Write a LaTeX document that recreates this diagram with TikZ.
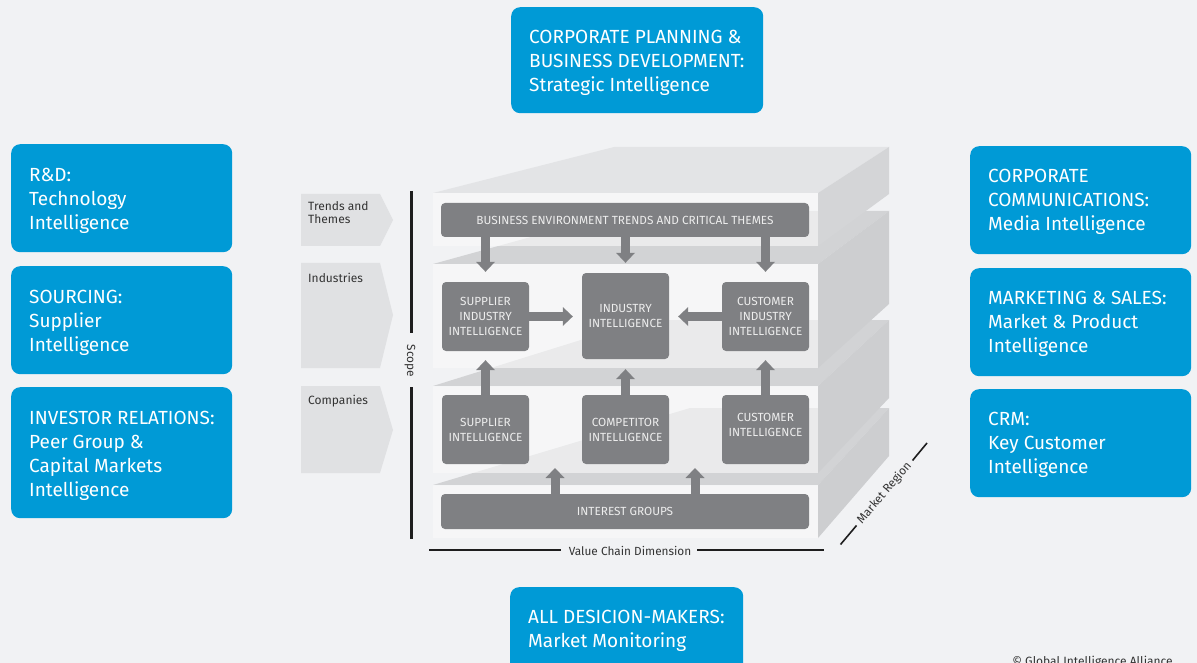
\documentclass[tikz,border=0pt]{standalone}
\usepackage{fontspec}
\setmainfont{Fira Sans}
\usetikzlibrary{arrows.meta,calc}

\definecolor{bg}{HTML}{F1F2F4}
\definecolor{gia}{HTML}{009AD6}
\definecolor{tile}{HTML}{7F8083}
\definecolor{topA}{HTML}{E3E4E6}
\definecolor{topB}{HTML}{D2D3D5}
\definecolor{sideC}{HTML}{CDCED0}
\definecolor{frontC}{HTML}{FAFAFA}
\definecolor{chev}{HTML}{E0E1E3}
\definecolor{ink}{HTML}{333333}
\definecolor{rulec}{HTML}{1E1E1E}

\tikzset{
  bluebox/.style={fill=gia, rounded corners=9pt, inner sep=0pt, anchor=north west},
  bluetxt/.style={text=white, font=\fontsize{19}{24}\selectfont, align=left,
                  inner sep=0pt, anchor=north west},
  tilebox/.style={fill=tile, rounded corners=4pt, inner sep=0pt,
                  text=white!93!black, align=center,
                  font=\fontsize{11.8}{15}\selectfont},
  blk/.style={draw=tile, line width=9pt,
              -{Triangle[length=10pt,width=19pt,line width=0pt]},
              shorten >=10pt},
  chevlbl/.style={text=ink, font=\fontsize{12}{13}\selectfont, align=left,
                  inner sep=0pt, anchor=north west},
  axislbl/.style={text=ink, font=\fontsize{11.8}{13}\selectfont, inner sep=0pt},
  axisrule/.style={draw=rulec, line width=3pt},
  front/.style={fill=frontC, opacity=0.6}
}

\begin{document}
\begin{tikzpicture}[x=1pt,y=-1pt]
\useasboundingbox (0,0) rectangle (1197,663);
\clip (0,0) rectangle (1197,663);
\fill[bg] (0,0) rectangle (1197,663);

% ---- stacked slabs, drawn from the bottom one upwards ----
% slab 4: interest groups
\fill[topB] (433,485) -- (818,485) -- (889,408) -- (690,408) -- cycle;
\fill[sideC] (818,485) -- (889,408) -- (889,456) -- (818,538) -- cycle;
\fill[front] (433,485) rectangle (818,538);
% slab 3: companies
\fill[topB] (433,386) -- (818,386) -- (889,320) -- (645,320) -- cycle;
\fill[sideC] (818,386) -- (889,320) -- (889,398) -- (818,473) -- cycle;
\fill[front] (433,386) rectangle (818,473);
% slab 2: industries
\fill[topB] (433,264) -- (818,264) -- (889,211) -- (625,211) -- cycle;
\fill[sideC] (818,264) -- (889,211) -- (889,304) -- (818,368) -- cycle;
\fill[front] (433,264) rectangle (818,368);
% slab 1: trends and themes
\fill[topA] (433,193) -- (818,193) -- (889,147) -- (614,147) -- cycle;
\fill[sideC!85!white] (818,193) -- (889,147) -- (889,194) -- (818,246) -- cycle;
\fill[front] (433,193) rectangle (818,246);

% ---- scope chevrons ----
\fill[chev] (301,194) -- (380,194) -- (393,220) -- (380,246) -- (301,246) -- cycle;
\fill[chev] (301,263) -- (380,263) -- (393,315) -- (380,368) -- (301,368) -- cycle;
\fill[chev] (301,386) -- (380,386) -- (393,430) -- (380,473) -- (301,473) -- cycle;
\node[chevlbl] (ltrend) at (308,201) {Trends and\\Themes};
\node[chevlbl] (lind) at (308,273) {Industries};
\node[chevlbl] (lcomp) at (308,395) {Companies};

% ---- axes ----
\node[axislbl, rotate=-90] (scope) at (410,361) {Scope};
\coordinate (sc1) at (411,191);
\coordinate (sc2) at (411,333);
\coordinate (sc3) at (411,387);
\coordinate (sc4) at (411,539);
\draw[axisrule] (sc1) -- (sc2);
\draw[axisrule] (sc3) -- (sc4);

\node[axislbl] (vcd) at (630,550.5) {Value Chain Dimension};
\coordinate (vc1) at (429,550);
\coordinate (vc2) at (561,550);
\coordinate (vc3) at (697,550);
\coordinate (vc4) at (824,550);
\draw[axisrule, line width=2.6pt] (vc1) -- (vc2);
\draw[axisrule, line width=2.6pt] (vc3) -- (vc4);

\node[axislbl, rotate=49.5] (mreg) at (884.5,493) {Market Region};
\coordinate (mr1) at (840.5,544.5);
\coordinate (mr2) at (856.5,525.5);
\coordinate (mr3) at (912.5,460.5);
\coordinate (mr4) at (927,443);
\draw[draw=rulec, line width=1.6pt] (mr1) -- (mr2);
\draw[draw=rulec, line width=1.6pt] (mr3) -- (mr4);

% ---- intelligence tiles ----
\node[tilebox, minimum width=368pt, minimum height=34pt] (bet) at (625,220)
  {BUSINESS ENVIRONMENT TRENDS AND CRITICAL THEMES};
\node[tilebox, minimum width=87pt, minimum height=69pt] (sii) at (485.5,316.5)
  {SUPPLIER\\INDUSTRY\\INTELLIGENCE};
\node[tilebox, minimum width=87pt, minimum height=86pt] (ii) at (625.5,316)
  {INDUSTRY\\INTELLIGENCE};
\node[tilebox, minimum width=87pt, minimum height=69pt] (cii) at (765.5,316.5)
  {CUSTOMER\\INDUSTRY\\INTELLIGENCE};
\node[tilebox, minimum width=87pt, minimum height=69pt] (si) at (485.5,429.5)
  {SUPPLIER\\INTELLIGENCE};
\node[tilebox, minimum width=87pt, minimum height=69pt] (ci) at (625.5,429.5)
  {COMPETITOR\\INTELLIGENCE};
\node[tilebox, minimum width=87pt, minimum height=69pt] (cui) at (765.5,429.5)
  {CUSTOMER\\INTELLIGENCE\\[-6pt]};
\node[tilebox, minimum width=368pt, minimum height=35pt] (ig) at (625,511.5)
  {INTEREST GROUPS};

% ---- information flows ----
\draw[blk] (bet.south -| sii.north) -- (sii.north);
\draw[blk] (bet.south -| ii.north) -- (ii.north);
\draw[blk] (bet.south -| cii.north) -- (cii.north);
\draw[blk, shorten >=9pt] (sii.east) -- (ii.west |- sii.east);
\draw[blk, shorten >=9pt] (cii.west) -- (ii.east |- cii.west);
\draw[blk, shorten >=9pt] (si.north) -- (sii.south);
\draw[blk] (ci.north) -- (ii.south);
\draw[blk, shorten >=9pt] (cui.north) -- (cii.south);
\coordinate (gap1) at (555,464);
\coordinate (gap2) at (695,464);
\draw[blk, shorten >=4pt] (ig.north -| gap1) -- (gap1);
\draw[blk, shorten >=4pt] (ig.north -| gap2) -- (gap2);

% ---- decision-maker boxes ----
\node[bluebox, minimum width=252pt, minimum height=106pt] (cpb) at (511,7) {};
\node[bluetxt] (cpbt) at ($(cpb.north west)+(18,23)$)
  {CORPORATE PLANNING \&\\BUSINESS DEVELOPMENT:\\Strategic Intelligence};

\node[bluebox, minimum width=221pt, minimum height=108pt] (rd) at (11,144) {};
\node[bluetxt] (rdt) at ($(rd.north west)+(18,24)$)
  {R\&D:\\Technology\\Intelligence};

\node[bluebox, minimum width=221pt, minimum height=108pt] (src) at (11,266) {};
\node[bluetxt] (srct) at ($(src.north west)+(18,24)$)
  {SOURCING:\\Supplier\\Intelligence};

\node[bluebox, minimum width=221pt, minimum height=131pt] (inv) at (11,387) {};
\node[bluetxt] (invt) at ($(inv.north west)+(18,24)$)
  {INVESTOR RELATIONS:\\Peer Group \&\\Capital Markets\\Intelligence};

\node[bluebox, minimum width=221pt, minimum height=108pt] (ccm) at (970,146) {};
\node[bluetxt] (ccmt) at ($(ccm.north west)+(18,23)$)
  {CORPORATE\\COMMUNICATIONS:\\Media Intelligence};

\node[bluebox, minimum width=221pt, minimum height=108pt] (mks) at (970,268) {};
\node[bluetxt] (mkst) at ($(mks.north west)+(18,23)$)
  {MARKETING \& SALES:\\Market \& Product\\Intelligence};

\node[bluebox, minimum width=221pt, minimum height=108pt] (crm) at (970,389) {};
\node[bluetxt] (crmt) at ($(crm.north west)+(18,23)$)
  {CRM:\\Key Customer\\Intelligence};

\node[bluebox, minimum width=233pt, minimum height=100pt] (adm) at (510,587) {};
\node[bluetxt] (admt) at ($(adm.north west)+(18,23)$)
  {ALL DESICION-MAKERS:\\Market Monitoring};

\node[anchor=base, inner sep=0pt, text=ink, font=\fontsize{12}{14}\selectfont]
  (copy) at (1092.5,665.5) {\textcopyright{} Global Intelligence Alliance};
\end{tikzpicture}
\end{document}
